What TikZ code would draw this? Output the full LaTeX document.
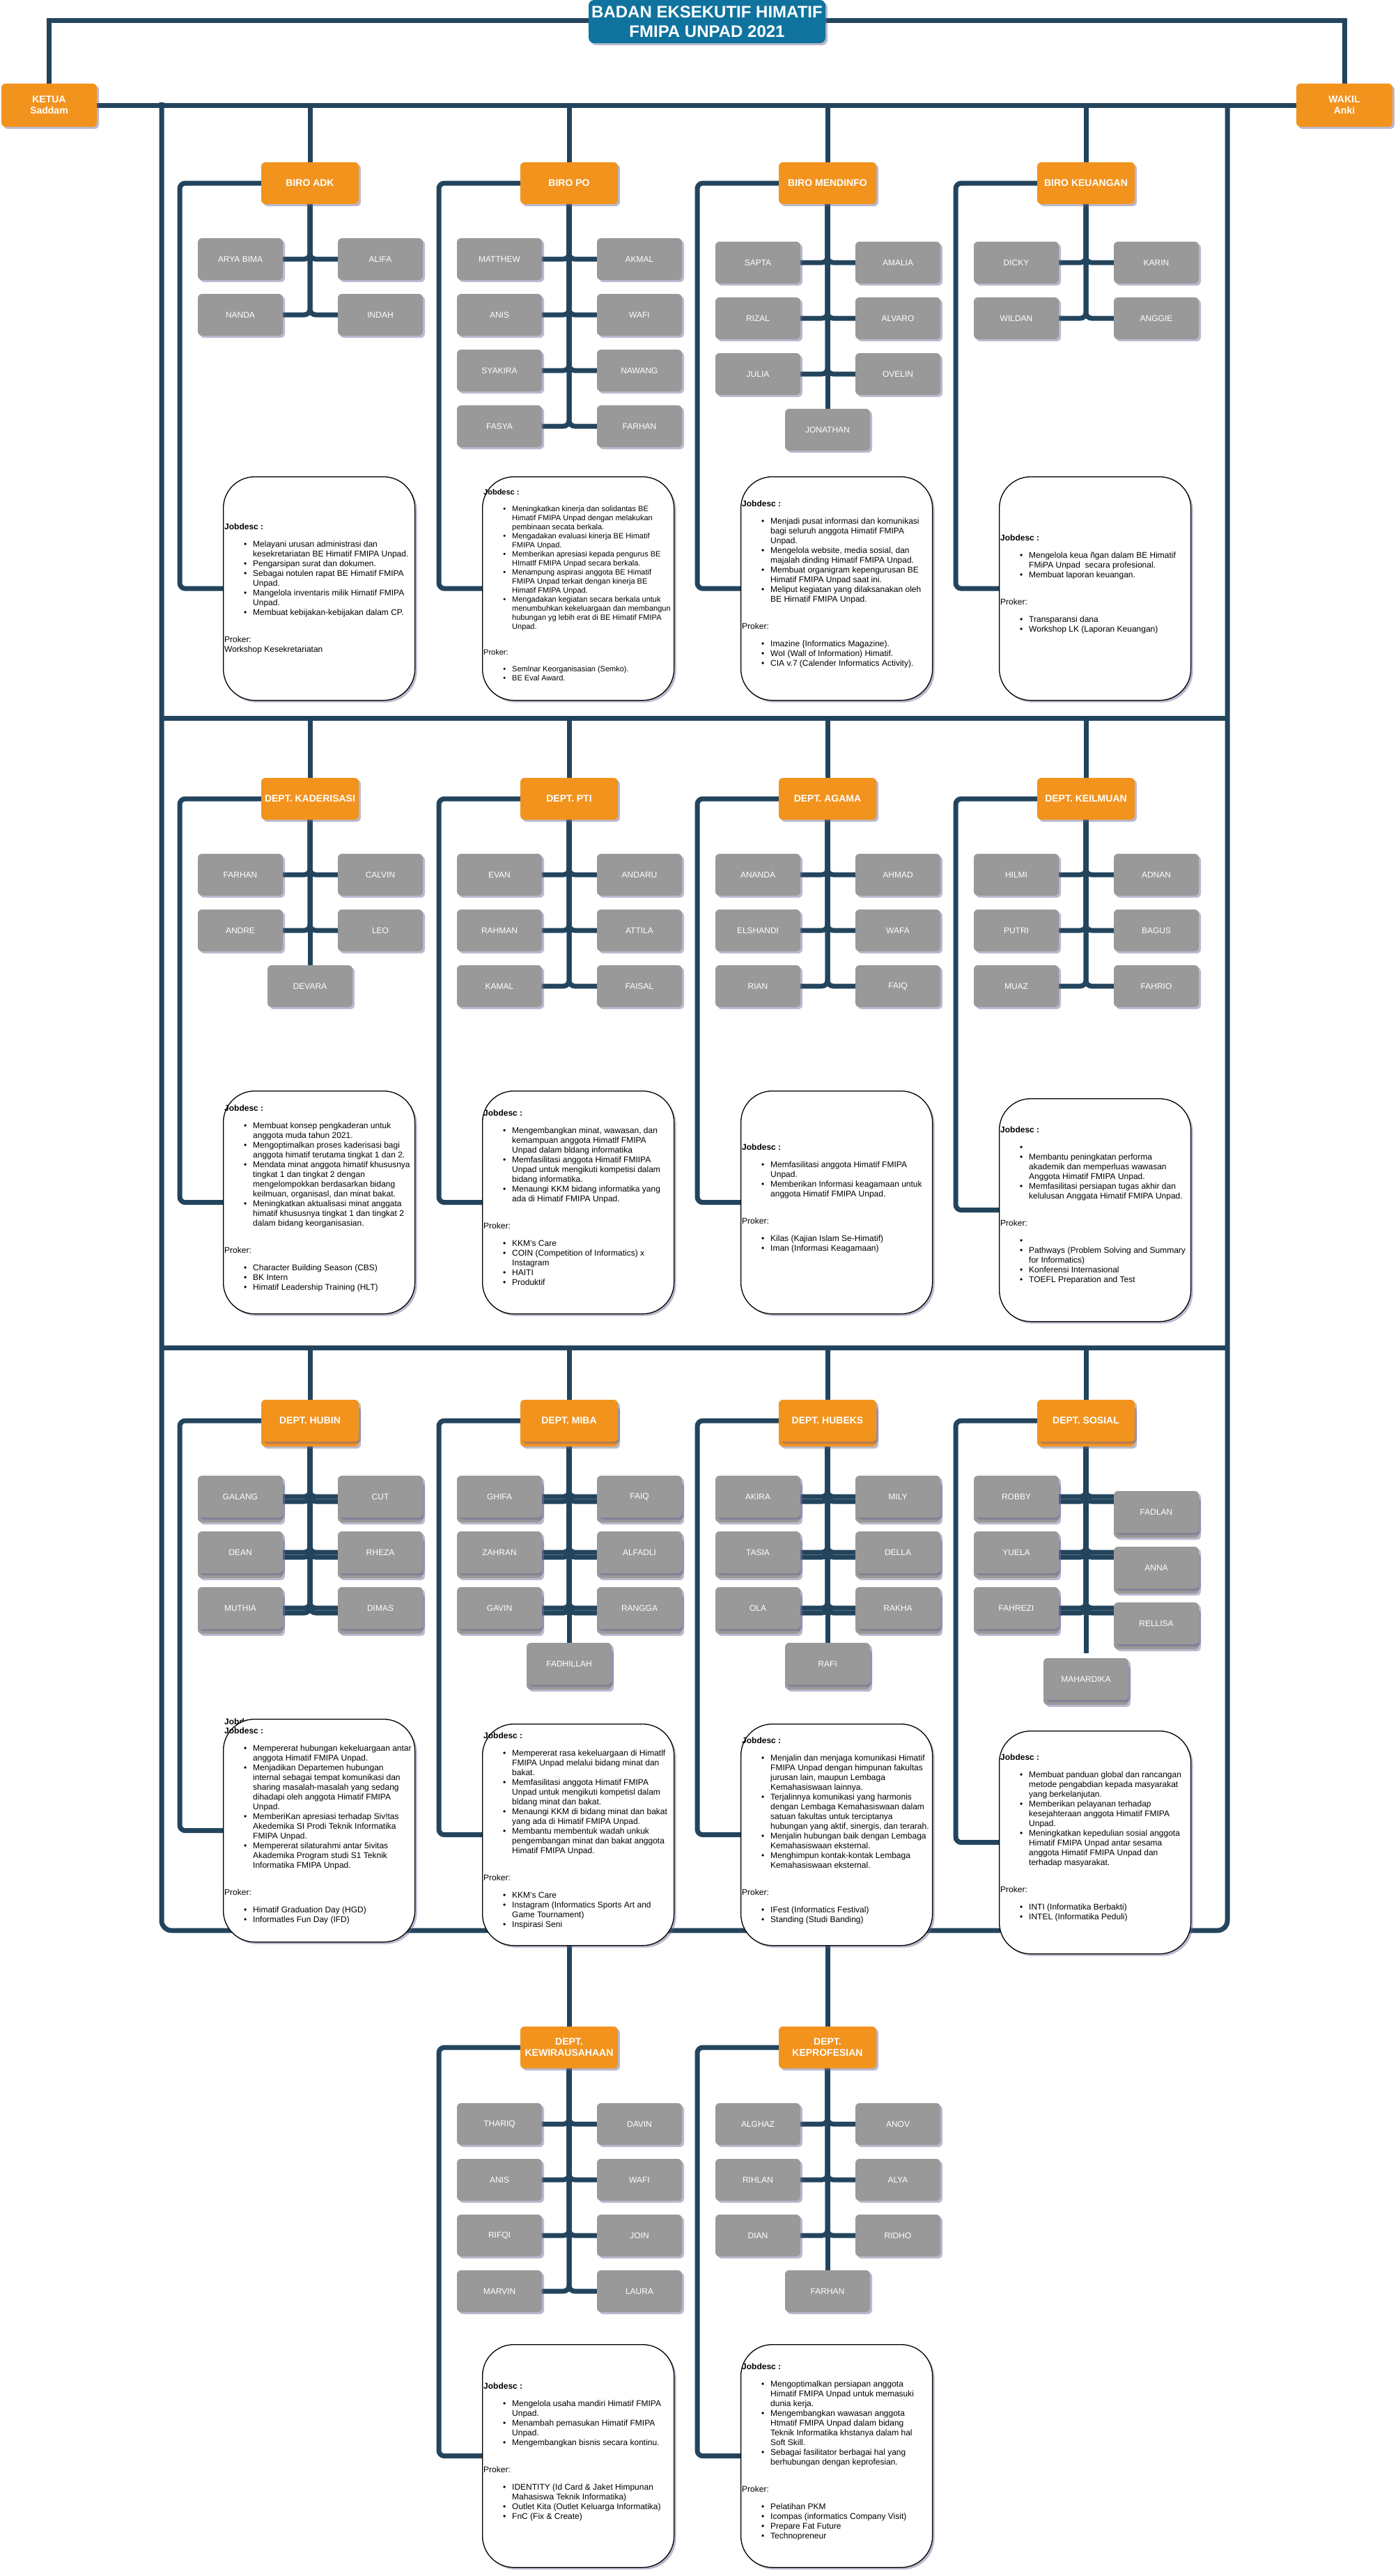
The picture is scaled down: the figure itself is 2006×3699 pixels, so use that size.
\documentclass[tikz,border=0pt]{standalone}
\usepackage{fontspec}
\setmainfont{Liberation Sans}
\usepackage{enumitem}
\usetikzlibrary{shadows,calc}
\definecolor{navy}{HTML}{23445D}
\definecolor{orng}{HTML}{F2931E}
\definecolor{grayb}{HTML}{999999}
\definecolor{ttl}{HTML}{10739E}
\definecolor{shadowc}{RGB}{100,100,150}
\pgfdeclarelayer{back}
\pgfdeclarelayer{bg}
\pgfsetlayers{back,bg,main}
\setlist[itemize]{label=\textbullet,leftmargin=41pt,labelsep=9pt,topsep=11pt,itemsep=0pt,parsep=0pt,partopsep=0pt}
\newcommand{\fA}{\fontsize{12}{14}\selectfont}
\newcommand{\fB}{\fontsize{11}{13}\selectfont}
\newcommand{\jh}{\textbf{Jobdesc :}}
\newcommand{\jdt}[4]{\node[anchor=base west,inner sep=0pt] (#1) at (#2,#3) {\begin{minipage}[t]{300pt}\raggedright\fA #4\end{minipage}};}
\newcommand{\jdtB}[4]{\node[anchor=base west,inner sep=0pt] (#1) at (#2,#3) {\begin{minipage}[t]{300pt}\raggedright\fB #4\end{minipage}};}
\newcommand{\pair}[6]{\node[mem] (#1L#2) at (#3-100,#4) {#5};\node[mem] (#1R#2) at (#3+101,#4) {#6};}
\newcommand{\pc}[2]{\draw[ln] (#1.south) |- (#1L#2.east);\draw[ln] (#1.south) |- (#1R#2.west);}
\newcommand{\brn}[1]{\draw[ln] (#1.west) -| ($(#1J.west)+(-62,0)$) -- (#1J.west);}
\tikzset{
 shadowed/.style={drop shadow={shadow xshift=3pt,shadow yshift=-3pt,fill=shadowc,opacity=0.45}},
 ln/.style={draw=navy,line width=7pt,rounded corners=8pt},
 hdr/.style={rectangle,rounded corners=6pt,fill=orng,minimum width=140pt,minimum height=60pt,inner sep=2pt,text=white,font=\bfseries\fontsize{14}{16}\selectfont,align=center,shadowed},
 mem/.style={rectangle,rounded corners=6pt,fill=grayb,minimum width=122pt,minimum height=60pt,inner sep=2pt,text=white,font=\fontsize{12}{14}\selectfont,shadowed},
 jd/.style={rectangle,rounded corners=45pt,fill=white,draw=black,line width=1.3pt,minimum width=275pt,anchor=north west,shadowed},
 ttlbox/.style={rectangle,rounded corners=8pt,fill=ttl,minimum width=340pt,minimum height=62pt,inner sep=2pt,text=white,font=\bfseries\fontsize{24}{28}\selectfont,align=center,shadowed}
}
\newcommand{\rowthree}{%
 % HUBIN
 \node[hdr] (hubin) at (445,2040) {DEPT. HUBIN};
 \pair{hubin}{1}{445}{2149}{GALANG}{CUT}
 \pair{hubin}{2}{445}{2229}{DEAN}{RHEZA}
 \pair{hubin}{3}{445}{2309}{MUTHIA}{DIMAS}
 % MIBA
 \node[hdr] (miba) at (817,2040) {DEPT. MIBA};
 \pair{miba}{1}{817}{2149}{GHIFA}{FAIQ}
 \pair{miba}{2}{817}{2229}{ZAHRAN}{ALFADLI}
 \pair{miba}{3}{817}{2309}{GAVIN}{RANGGA}
 \node[mem] (mibaC) at (817,2389) {FADHILLAH};
 % HUBEKS
 \node[hdr] (hubeks) at (1188,2040) {DEPT. HUBEKS};
 \pair{hubeks}{1}{1188}{2149}{AKIRA}{MILY}
 \pair{hubeks}{2}{1188}{2229}{TASIA}{DELLA}
 \pair{hubeks}{3}{1188}{2309}{OLA}{RAKHA}
 \node[mem] (hubeksC) at (1188,2389) {RAFI};
 % SOSIAL
 \node[hdr] (sos) at (1559,2040) {DEPT. SOSIAL};
 \node[mem] (sosL1) at (1459,2149) {ROBBY};
 \node[mem] (sosL2) at (1459,2229) {YUELA};
 \node[mem] (sosL3) at (1459,2309) {FAHREZI};
 \node[mem] (sosR1) at (1660,2171) {FADLAN};
 \node[mem] (sosR2) at (1660,2251) {ANNA};
 \node[mem] (sosR3) at (1660,2331) {RELLISA};
 \node[mem] (sosC) at (1559,2411) {MAHARDIKA};
 \coordinate (sosEnd) at (1559,2367);
 \begin{pgfonlayer}{bg}
  \pc{hubin}{1}\pc{hubin}{2}\pc{hubin}{3}
  \pc{miba}{1}\pc{miba}{2}\pc{miba}{3}
  \draw[ln] (miba.south) -- (mibaC.north);
  \pc{hubeks}{1}\pc{hubeks}{2}\pc{hubeks}{3}
  \draw[ln] (hubeks.south) -- (hubeksC.north);
  \draw[ln] (sos.south) -- (sosEnd);
  \draw[ln] (sos.south) |- (sosL1.east);
  \draw[ln] (sos.south) |- (sosL2.east);
  \draw[ln] (sos.south) |- (sosL3.east);
  \draw[ln] (sos.south) |- ($(sosR1.west)+(0,-22)$);
  \draw[ln] (sos.south) |- ($(sosR2.west)+(0,-22)$);
  \draw[ln] (sos.south) |- ($(sosR3.west)+(0,-22)$);
 \end{pgfonlayer}
}
\begin{document}
\begin{tikzpicture}[x=1pt,y=-1pt]
\useasboundingbox (0,0) rectangle (2006,3699);
\begin{pgfonlayer}{back}
\fill[white] (0,0) rectangle (2006,3699);
\end{pgfonlayer}
% ---------- top ----------
\node[ttlbox] (title) at (1015,31) {BADAN EKSEKUTIF HIMATIF\\FMIPA UNPAD 2021};
\node[hdr,minimum width=137pt,minimum height=62pt] (ketua) at (70.5,151) {KETUA\\Saddam};
\node[hdr,minimum width=138pt,minimum height=62pt] (wakil) at (1930,151) {WAKIL\\Anki};
\coordinate (topY) at (0,30);
\coordinate (mainY) at (0,151);
\coordinate (fTL) at (232,147);
\coordinate (fTR) at (1762,151);
\coordinate (fBL) at (232,2772);
\coordinate (fBR) at (1762,2772);
\coordinate (h1L) at (232,1031);
\coordinate (h1R) at (1762,1031);
\coordinate (h2L) at (232,1935);
\coordinate (h2R) at (1762,1935);
% ---------- ROW 1 ----------
\node[hdr] (adk) at (445,263) {BIRO ADK};
\pair{adk}{1}{445}{372}{ARYA BIMA}{ALIFA}
\pair{adk}{2}{445}{452}{NANDA}{INDAH}
\node[hdr] (po) at (817,263) {BIRO PO};
\pair{po}{1}{817}{372}{MATTHEW}{AKMAL}
\pair{po}{2}{817}{452}{ANIS}{WAFI}
\pair{po}{3}{817}{532}{SYAKIRA}{NAWANG}
\pair{po}{4}{817}{612}{FASYA}{FARHAN}
\node[hdr] (mend) at (1188,263) {BIRO MENDINFO};
\pair{mend}{1}{1188}{377}{SAPTA}{AMALIA}
\pair{mend}{2}{1188}{457}{RIZAL}{ALVARO}
\pair{mend}{3}{1188}{537}{JULIA}{OVELIN}
\node[mem] (mendC) at (1188,617) {JONATHAN};
\node[hdr] (keu) at (1559,263) {BIRO KEUANGAN};
\pair{keu}{1}{1559}{377}{DICKY}{KARIN}
\pair{keu}{2}{1559}{457}{WILDAN}{ANGGIE}
% jobdesc boxes row 1
\node[jd,minimum height=321pt] (adkJ) at (320,684) {};
\node[jd,minimum height=321pt] (poJ) at (692,684) {};
\node[jd,minimum height=321pt] (mendJ) at (1063,684) {};
\node[jd,minimum height=321pt] (keuJ) at (1434,684) {};
\jdt{adkT}{322}{760}{\jh
\begin{itemize}
\item Melayani urusan administrasi dan\\kesekretariatan BE Himatif FMIPA Unpad.
\item Pengarsipan surat dan dokumen.
\item Sebagai notulen rapat BE Himatif FMIPA\\Unpad.
\item Mangelola inventaris milik Himatif FMIPA\\Unpad.
\item Membuat kebijakan-kebijakan dalam CP.
\end{itemize}
\vspace{14pt}Proker:\\Workshop Kesekretariatan}
\jdtB{poT}{694}{710}{\jh
\begin{itemize}
\item Meningkatkan kinerja dan solidantas BE\\Himatif FMIPA Unpad dengan melakukan\\pembinaan secata berkala.
\item Mengadakan evaluasi kinerja BE Himatif\\FMIPA Unpad.
\item Memberikan apresiasi kepada pengurus BE\\HImatlf FMIPA Unpad secara berkala.
\item Menampung aspirasi anggota BE Himatif\\FMIPA Unpad terkait dengan kinerja BE\\Himatif FMIPA Unpad.
\item Mengadakan kegiatan secara berkala untuk\\menumbuhkan kekeluargaan dan membangun\\hubungan yg lebih erat di BE Himatif FMIPA\\Unpad.
\end{itemize}
\vspace{13pt}Proker:
\begin{itemize}
\item Semlnar Keorganisasian (Semko).
\item BE Eval Award.
\end{itemize}}
\jdt{mendT}{1065}{727}{\jh
\begin{itemize}
\item Menjadi pusat informasi dan komunikasi\\bagi seluruh anggota Himatif FMIPA\\Unpad.
\item Mengelola website, media sosial, dan\\majalah dinding Himatif FMIPA Unpad.
\item Membuat organigram kepengurusan BE\\Himatif FMIPA Unpad saat ini.
\item Meliput kegiatan yang dilaksanakan oleh\\BE Hirnatif FMIPA Unpad.
\end{itemize}
\vspace{14pt}Proker:
\begin{itemize}
\item Imazine \{Informatics Magazine).
\item WoI (Wall of Information) Himatif.
\item CIA v.7 (Calender Informatics Activity).
\end{itemize}}
\jdt{keuT}{1436}{776}{\jh
\begin{itemize}
\item Mengelola keua ñgan dalam BE Himatif\\FMiPA Unpad\ \ secara profesional.
\item Membuat laporan keuangan.
\end{itemize}
\vspace{14pt}Proker:
\begin{itemize}
\item Transparansi dana
\item Workshop LK (Laporan Keuangan)
\end{itemize}}
% ---------- ROW 2 ----------
\node[hdr] (kad) at (445,1147) {DEPT. KADERISASI};
\pair{kad}{1}{445}{1256}{FARHAN}{CALVIN}
\pair{kad}{2}{445}{1336}{ANDRE}{LEO}
\node[mem] (kadC) at (445,1416) {DEVARA};
\node[hdr] (pti) at (817,1147) {DEPT. PTI};
\pair{pti}{1}{817}{1256}{EVAN}{ANDARU}
\pair{pti}{2}{817}{1336}{RAHMAN}{ATTILA}
\pair{pti}{3}{817}{1416}{KAMAL}{FAISAL}
\node[hdr] (aga) at (1188,1147) {DEPT. AGAMA};
\pair{aga}{1}{1188}{1256}{ANANDA}{AHMAD}
\pair{aga}{2}{1188}{1336}{ELSHANDI}{WAFA}
\pair{aga}{3}{1188}{1416}{RIAN}{FAIQ}
\node[hdr] (keil) at (1559,1147) {DEPT. KEILMUAN};
\pair{keil}{1}{1559}{1256}{HILMI}{ADNAN}
\pair{keil}{2}{1559}{1336}{PUTRI}{BAGUS}
\pair{keil}{3}{1559}{1416}{MUAZ}{FAHRIO}
\node[jd,minimum height=320pt] (kadJ) at (320,1566) {};
\node[jd,minimum height=320pt] (ptiJ) at (692,1566) {};
\node[jd,minimum height=320pt] (agaJ) at (1063,1566) {};
\node[jd,minimum height=320pt] (keilJ) at (1434,1577) {};
\jdt{kadT}{322}{1595}{\jh
\begin{itemize}
\item Membuat konsep pengkaderan untuk\\anggota muda tahun 2021.
\item Mengoptimalkan proses kaderisasi bagi\\anggota himatif terutama tingkat 1 dan 2.
\item Mendata minat anggota himatif khususnya\\tingkat 1 dan tingkat 2 dengan\\mengelompokkan berdasarkan bidang\\keilmuan, organisasl, dan minat bakat.
\item Meningkatkan aktualisasi minat anggata\\himatif khususnya tingkat 1 dan tingkat 2\\dalam bidang keorganisasian.
\end{itemize}
\vspace{14pt}Proker:
\begin{itemize}
\item Character Building Season (CBS)
\item BK Intern
\item Himatif Leadership Training (HLT)
\end{itemize}}
\jdt{ptiT}{694}{1602}{\jh
\begin{itemize}
\item Mengembangkan minat, wawasan, dan\\kemampuan anggota Himatlf FMIPA\\Unpad dalam bldang informatika
\item Memfasilitasi anggota Himatif FMIIPA\\Unpad untuk mengikuti kompetisi dalam\\bidang informatika.
\item Menaungi KKM bidang informatika yang\\ada di Himatif FMIPA Unpad.
\end{itemize}
\vspace{14pt}Proker:
\begin{itemize}
\item KKM's Care
\item COIN (Competition of Informatics) x\\Instagram
\item HAITI
\item Produktif
\end{itemize}}
\jdt{agaT}{1065}{1651}{\jh
\begin{itemize}
\item Memfasilitasi anggota Himatif FMIPA\\Unpad.
\item Memberikan Informasi keagamaan untuk\\anggota Himatif FMIPA Unpad.
\end{itemize}
\vspace{14pt}Proker:
\begin{itemize}
\item Kilas (Kajian Islam Se-Himatif)
\item Iman (Informasi Keagamaan)
\end{itemize}}
\jdt{keilT}{1436}{1626}{\jh
\begin{itemize}
\item \mbox{}
\item Membantu peningkatan performa\\akademik dan memperluas wawasan\\Anggota Himatif FMIPA Unpad.
\item Memfasilitasi persiapan tugas akhir dan\\kelulusan Anggata Himatif FMIPA Unpad.
\end{itemize}
\vspace{14pt}Proker:
\begin{itemize}
\item \mbox{}
\item Pathways (Problem Solving and Summary\\for Informatics)
\item Konferensi Internasional
\item TOEFL Preparation and Test
\end{itemize}}
% ---------- ROW 3 ----------
\begin{scope}[yshift=-7pt]
\rowthree
\end{scope}
\rowthree
\node[anchor=base west,inner sep=0pt,font=\fA\bfseries] (stray) at (322,2476) {Jobdesc :};
\node[jd,minimum height=320pt] (hubinJ) at (320,2468) {};
\node[jd,minimum height=318pt] (mibaJ) at (692,2475) {};
\node[jd,minimum height=318pt] (hubeksJ) at (1063,2475) {};
\node[jd,minimum height=320pt] (sosJ) at (1434,2485) {};
\jdt{hubinT}{322}{2489}{\jh
\begin{itemize}
\item Mempererat hubungan kekeluargaan antar\\anggota Himatif FMIPA Unpad.
\item Menjadikan Departemen hubungan\\internal sebagai tempat komunikasi dan\\sharing masalah-masalah yang sedang\\dihadapi oleh anggota Himatif FMIPA\\Unpad.
\item MemberiKan apresiasi terhadap Siv!tas\\Akedemika SI Prodi Teknik Informatika\\FMIPA Unpad.
\item Mempererat silaturahmi antar 5ivitas\\Akademika Program studi S1 Teknik\\Informatika FMIPA Unpad.
\end{itemize}
\vspace{14pt}Proker:
\begin{itemize}
\item Himatif Graduation Day (HGD)
\item Informatles Fun Day (IFD)
\end{itemize}}
\jdt{mibaT}{694}{2496}{\jh
\begin{itemize}
\item Mempererat rasa kekeluargaan di Himatlf\\FMIPA Unpad melalui bidang minat dan\\bakat.
\item Memfasilitasi anggota Himatif FMIPA\\Unpad untuk mengikuti kompetisl dalam\\bldang minat dan bakat.
\item Menaungi KKM di bidang minat dan bakat\\yang ada di Himatif FMIPA Unpad.
\item Membantu membentuk wadah unkuk\\pengembangan minat dan bakat anggota\\Himatif FMIPA Unpad.
\end{itemize}
\vspace{14pt}Proker:
\begin{itemize}
\item KKM's Care
\item Instagram (Informatics Sports Art and\\Game Tournament)
\item Inspirasi Seni
\end{itemize}}
\jdt{hubeksT}{1065}{2503}{\jh
\begin{itemize}
\item Menjalin dan menjaga komunikasi Himatif\\FMIPA Unpad dengan himpunan fakultas\\jurusan lain, maupun Lembaga\\Kemahasiswaan lainnya.
\item Terjalinnya komunikasi yang harmonis\\dengan Lembaga Kemahasiswaan dalam\\satuan fakultas untuk terciptanya\\hubungan yang aktif, sinergis, dan terarah.
\item Menjalin hubungan baik dengan Lembaga\\Kemahasiswaan eksternal.
\item Menghimpun kontak-kontak Lembaga\\Kemahasiswaan eksternal.
\end{itemize}
\vspace{14pt}Proker:
\begin{itemize}
\item IFest (Informatics Festival)
\item Standing (Studi Banding)
\end{itemize}}
\jdt{sosT}{1436}{2527}{\jh
\begin{itemize}
\item Membuat panduan global dan rancangan\\metode pengabdian kepada masyarakat\\yang berkelanjutan.
\item Memberikan pelayanan terhadap\\kesejahteraan anggota Himatif FMIPA\\Unpad.
\item Meningkatkan kepedulian sosial anggota\\Himatif FMIPA Unpad antar sesama\\anggota Himatif FMIPA Unpad dan\\terhadap masyarakat.
\end{itemize}
\vspace{14pt}Proker:
\begin{itemize}
\item INTI (Informatika Berbakti)
\item INTEL (Informatika Peduli)
\end{itemize}}
% ---------- ROW 4 ----------
\node[hdr] (kew) at (817,2940) {DEPT.\\KEWIRAUSAHAAN};
\pair{kew}{1}{817}{3050}{THARIQ}{DAVIN}
\pair{kew}{2}{817}{3130}{ANIS}{WAFI}
\pair{kew}{3}{817}{3210}{RIFQI}{JOIN}
\pair{kew}{4}{817}{3290}{MARVIN}{LAURA}
\node[hdr] (kep) at (1188,2940) {DEPT.\\KEPROFESIAN};
\pair{kep}{1}{1188}{3050}{ALGHAZ}{ANOV}
\pair{kep}{2}{1188}{3130}{RIHLAN}{ALYA}
\pair{kep}{3}{1188}{3210}{DIAN}{RIDHO}
\node[mem] (kepC) at (1188,3290) {FARHAN};
\node[jd,minimum height=320pt] (kewJ) at (692,3366) {};
\node[jd,minimum height=320pt] (kepJ) at (1063,3366) {};
\jdt{kewT}{694}{3430}{\jh
\begin{itemize}
\item Mengelola usaha mandiri Himatif FMIPA\\Unpad.
\item Menambah pemasukan Himatif FMIPA\\Unpad.
\item Mengembangkan bisnis secara kontinu.
\end{itemize}
\vspace{14pt}Proker:
\begin{itemize}
\item IDENTITY (Id Card \& Jaket Himpunan\\Mahasiswa Teknik Informatika)
\item Outlet Kita (Outlet Keluarga Informatika)
\item FnC (Fix \& Create)
\end{itemize}}
\jdt{kepT}{1065}{3402}{\jh
\begin{itemize}
\item Mengoptimalkan persiapan anggota\\Himatif FMIPA Unpad untuk memasuki\\dunia kerja.
\item Mengembangkan wawasan anggota\\Htmatif FMIPA Unpad dalam bidang\\Teknik Informatika khstanya dalam hal\\Soft Skill.
\item Sebagai fasilitator berbagai hal yang\\berhubungan dengan keprofesian.
\end{itemize}
\vspace{14pt}Proker:
\begin{itemize}
\item Pelatihan PKM
\item Icompas (informatics Company Visit)
\item Prepare Fat Future
\item Technopreneur
\end{itemize}}
% ---------- connectors ----------
\begin{pgfonlayer}{bg}
\draw[ln,rounded corners=0pt] (ketua.north) -- (ketua.north |- topY) -- (wakil.north |- topY) -- (wakil.north);
\draw[ln] (ketua.east) -- (wakil.west);
\draw[ln,rounded corners=14pt] (fTL) -- (fBL) -- (fBR) -- (fTR);
\draw[ln] (h1L) -- (h1R);
\draw[ln] (h2L) -- (h2R);
% row 1
\foreach \h in {adk,po,mend,keu} {\draw[ln] (\h.north |- mainY) -- (\h.north);}
\pc{adk}{1}\pc{adk}{2}
\pc{po}{1}\pc{po}{2}\pc{po}{3}\pc{po}{4}
\pc{mend}{1}\pc{mend}{2}\pc{mend}{3}
\draw[ln] (mend.south) -- (mendC.north);
\pc{keu}{1}\pc{keu}{2}
\brn{adk}\brn{po}\brn{mend}\brn{keu}
% row 2
\foreach \h in {kad,pti,aga,keil} {\draw[ln] (\h.north |- h1L) -- (\h.north);}
\pc{kad}{1}\pc{kad}{2}
\draw[ln] (kad.south) -- (kadC.north);
\pc{pti}{1}\pc{pti}{2}\pc{pti}{3}
\pc{aga}{1}\pc{aga}{2}\pc{aga}{3}
\pc{keil}{1}\pc{keil}{2}\pc{keil}{3}
\brn{kad}\brn{pti}\brn{aga}\brn{keil}
% row 3
\foreach \h in {hubin,miba,hubeks,sos} {\draw[ln] (\h.north |- h2L) -- (\h.north);}
\brn{hubin}\brn{miba}\brn{hubeks}\brn{sos}
% row 4
\foreach \h in {kew,kep} {\draw[ln] (\h.north |- fBL) -- (\h.north);}
\pc{kew}{1}\pc{kew}{2}\pc{kew}{3}\pc{kew}{4}
\pc{kep}{1}\pc{kep}{2}\pc{kep}{3}
\draw[ln] (kep.south) -- (kepC.north);
\brn{kew}\brn{kep}
\end{pgfonlayer}
\end{tikzpicture}
\end{document}
